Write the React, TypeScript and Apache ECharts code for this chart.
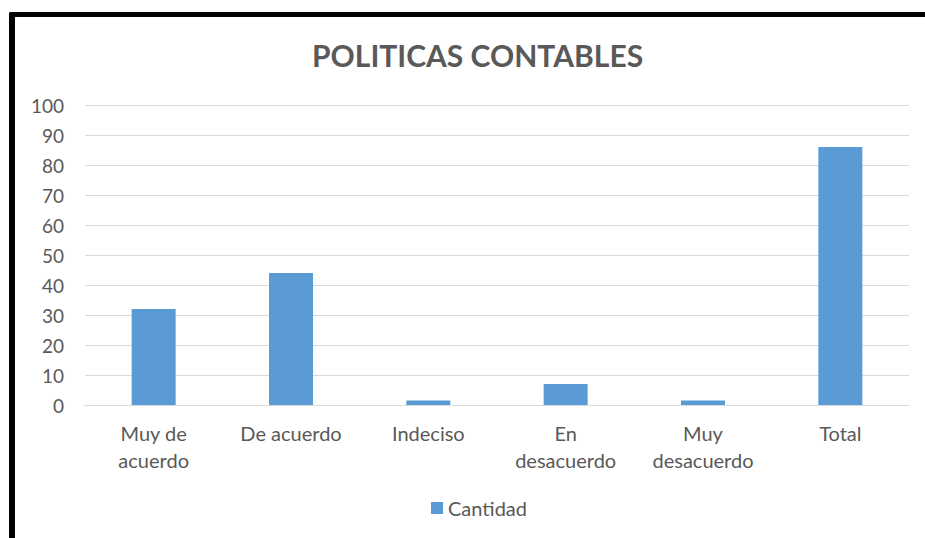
import React, { useEffect, useRef } from "react";
import * as echarts from "echarts";

const categories = ["Muy de\nacuerdo", "De acuerdo", "Indeciso", "En\ndesacuerdo", "Muy\ndesacuerdo", "Total"];
const cantidad = [32, 44, 1.5, 7, 1.5, 86];
const seriesName = "Cantidad";
const titleText = "POLITICAS CONTABLES";

export default function App() {
  const ref = useRef<HTMLDivElement>(null);
  useEffect(() => {
    if (!ref.current) return;
    const chart = echarts.init(ref.current, undefined, { renderer: "svg" });
    const font = "Lato, 'Open Sans', sans-serif";
    chart.setOption({
      animation: false,
      backgroundColor: "#ffffff",
      title: {
        text: titleText,
        left: 307,
        top: 35,
        textStyle: { fontFamily: font, fontSize: 30, fontWeight: "bold", color: "#595959" },
      },
      legend: {
        bottom: 15,
        left: 426,
        itemWidth: 12,
        itemHeight: 12,
        itemGap: 6,
        icon: "rect",
        textStyle: { fontFamily: font, fontSize: 20, color: "#595959" },
        data: [seriesName],
      },
      grid: { left: 85, right: 16, top: 105, bottom: 133 },
      xAxis: {
        type: "category",
        data: categories,
        axisLine: { lineStyle: { color: "#d9d9d9", width: 1 } },
        axisTick: { show: false },
        axisLabel: { fontFamily: font, fontSize: 20, color: "#595959", margin: 14, lineHeight: 27, interval: 0 },
      },
      yAxis: {
        type: "value",
        min: 0,
        max: 100,
        interval: 10,
        axisLine: { show: false },
        axisTick: { show: false },
        splitLine: { lineStyle: { color: "#d9d9d9", width: 1 } },
        axisLabel: { fontFamily: font, fontSize: 19, color: "#595959", margin: 21 },
      },
      series: [
        {
          name: seriesName,
          type: "bar",
          data: cantidad,
          barWidth: 44,
          itemStyle: { color: "#5b9bd5" },
        },
      ],
      graphic: [
        { type: "rect", shape: { x: 9, y: 12, width: 930, height: 5, r: 2 }, style: { fill: "#000" } },
        { type: "rect", shape: { x: 9, y: 12, width: 6, height: 540, r: 2 }, style: { fill: "#000" } },
      ],
    });
    return () => chart.dispose();
  }, []);
  return <div ref={ref} style={{ position: "fixed", left: 0, top: 0, width: 925, height: 538 }} />;
}
